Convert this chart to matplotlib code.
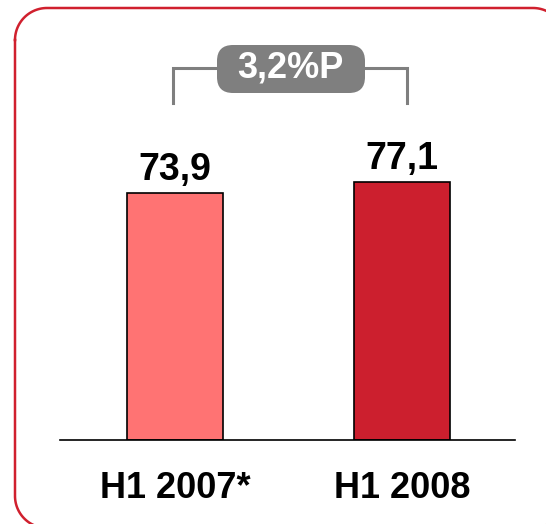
import matplotlib
matplotlib.use('Agg')
import matplotlib.pyplot as plt
import numpy as np
from matplotlib.patches import FancyBboxPatch

plt.rcParams['font.family'] = ['Liberation Sans', 'DejaVu Sans']

# data
categories = ['H1 2007*', 'H1 2008']
values = [73.9, 77.1]
value_labels = ['73,9', '77,1']
bar_colors = ['#FF7373', '#CC1F2E']
diff_label = '3,2%P'

W, H = 546, 524
fig = plt.figure(figsize=(W / 100, H / 100), dpi=100)

# overlay in pixel coords for frame and bracket
ov = fig.add_axes([0, 0, 1, 1])
ov.set_xlim(0, W)
ov.set_ylim(H, 0)
ov.axis('off')

# rounded frame, only partly inside the picture
r = 32
left, top, right, bottom = 15, 8, 565, 528
t = np.linspace(0, np.pi / 2, 30)
xs = np.concatenate([left + r - r * np.cos(t), right - r + r * np.sin(t),
                     right - r + r * np.cos(t), left + r - r * np.sin(t), [left]])
ys = np.concatenate([top + r - r * np.sin(t), top + r - r * np.cos(t),
                     bottom - r + r * np.sin(t), bottom - r + r * np.cos(t), [top + r]])
ov.plot(xs, ys, color='#D0202E', lw=1.8)

# bars
ax = fig.add_axes([60 / W, (H - 440) / H, (515 - 60) / W, 334 / H])
x = range(len(categories))
ax.bar(x, values, width=0.423, color=bar_colors, edgecolor='black', linewidth=1.2, zorder=2)
ax.set_xlim(-0.507, 1.498)
ax.set_ylim(0, 100)
for i, v in enumerate(values):
    ax.annotate(value_labels[i], (i, v), xytext=(0, 4), textcoords='offset points',
                ha='center', va='bottom', fontsize=27, fontweight='bold')
ax.set_xticks(list(x))
ax.set_xticklabels(categories, fontsize=26, fontweight='bold')
ax.tick_params(axis='x', length=0, pad=22)
ax.set_yticks([])
for s in ['top', 'right', 'left']:
    ax.spines[s].set_visible(False)
ax.spines['bottom'].set_linewidth(1.2)
ax.patch.set_alpha(0)

# difference bracket
gray = '#7F7F7F'
ov.plot([173, 173, 218], [103, 68, 68], color=gray, lw=2.2, solid_joinstyle='miter')
ov.plot([364, 407, 407], [68, 68, 103], color=gray, lw=2.2, solid_joinstyle='miter')
box = FancyBboxPatch((217, 45), 148, 48, boxstyle='round,pad=0,rounding_size=16',
                     facecolor=gray, edgecolor='none')
ov.add_patch(box)
ov.text(290, 68, diff_label, ha='center', va='center', color='white',
        fontsize=26, fontweight='bold')

fig.savefig('out.png', dpi=100)
